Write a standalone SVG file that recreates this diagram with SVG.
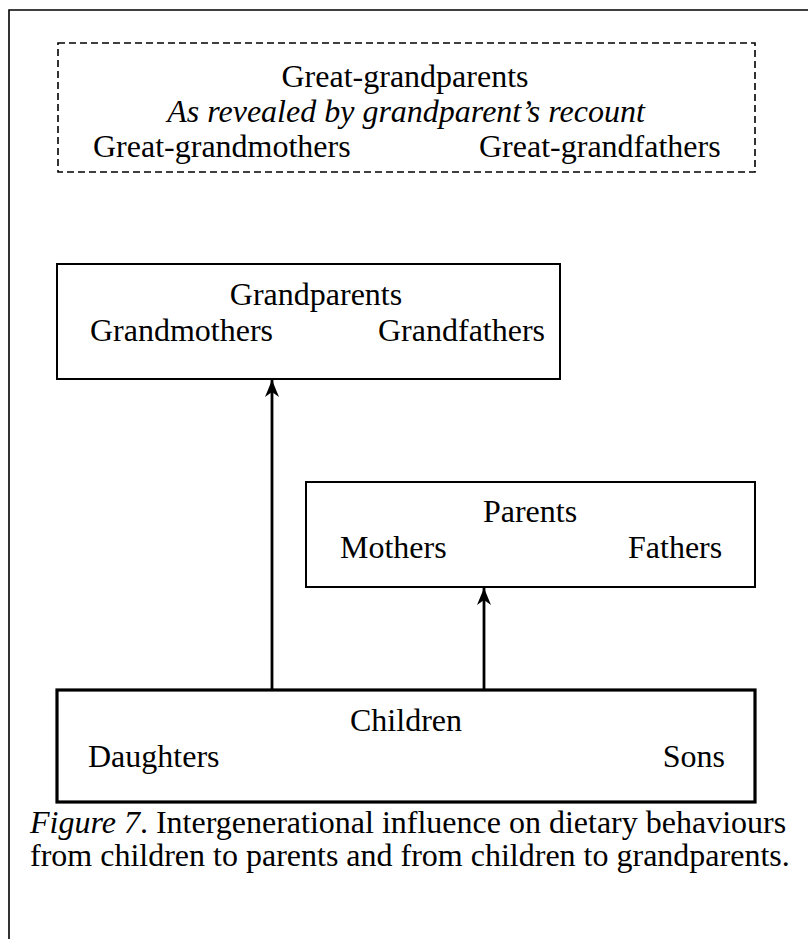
<svg xmlns="http://www.w3.org/2000/svg" width="808" height="939" viewBox="0 0 808 939">
  <style>
    text { font-family: "Liberation Serif", "Times New Roman", serif; font-size: 32px; fill: #000; }
    .mid { text-anchor: middle; }
    .end { text-anchor: end; }
    .it { font-style: italic; }
    .box { fill: #fff; stroke: #000; stroke-width: 2; }
    .thick { stroke-width: 3.2; }
    .dash { fill: none; stroke: #000; stroke-width: 1.6; stroke-dasharray: 7 4; }
    .link { fill: none; stroke: #000; stroke-width: 2.8; }
  </style>
  <defs>
    <marker id="arrow" markerUnits="userSpaceOnUse" viewBox="0 0 17 14" refX="17" refY="7" markerWidth="17" markerHeight="14" orient="auto">
      <path d="M0,0 L17,7 L0,14 L5,7 Z" fill="#000"/>
    </marker>
  </defs>

  <rect width="808" height="939" fill="#fff"/>

  <!-- page frame -->
  <path d="M9,939 V10 H808" fill="none" stroke="#000" stroke-width="1.6"/>

  <g id="great-grandparents">
    <rect class="dash" x="58" y="43" width="697" height="129"/>
    <text class="mid" x="405" y="87">Great-grandparents</text>
    <text class="mid it" x="406" y="122">As revealed by grandparent’s recount</text>
    <text x="93" y="157">Great-grandmothers</text>
    <text x="479" y="157">Great-grandfathers</text>
  </g>

  <g id="grandparents">
    <rect class="box" x="57" y="264" width="503" height="115"/>
    <text class="mid" x="316" y="305">Grandparents</text>
    <text x="90" y="341">Grandmothers</text>
    <text x="378" y="341">Grandfathers</text>
  </g>

  <g id="parents">
    <rect class="box" x="306" y="482" width="449" height="105"/>
    <text class="mid" x="530" y="522">Parents</text>
    <text x="340" y="558">Mothers</text>
    <text x="628" y="558">Fathers</text>
  </g>

  <g id="children">
    <rect class="box thick" x="57" y="690" width="698" height="112"/>
    <text class="mid" x="406" y="731">Children</text>
    <text x="88" y="767">Daughters</text>
    <text class="end" x="725" y="767">Sons</text>
  </g>

  <g id="connectors">
    <line class="link" x1="272" y1="689" x2="272" y2="380" marker-end="url(#arrow)"/>
    <line class="link" x1="484" y1="689" x2="484" y2="588" marker-end="url(#arrow)"/>
  </g>

  <g id="caption">
    <text x="30" y="833"><tspan class="it">Figure 7</tspan>. Intergenerational influence on dietary behaviours</text>
    <text x="30" y="866">from children to parents and from children to grandparents.</text>
  </g>
</svg>
